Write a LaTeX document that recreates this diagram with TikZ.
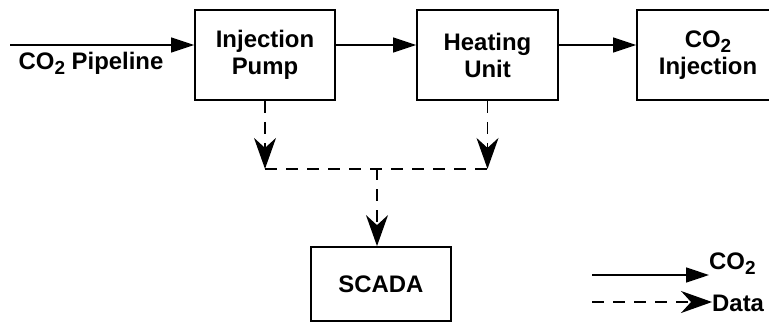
\documentclass[tikz,border=0pt]{standalone}
\usepackage{fontspec}
\setmainfont{Liberation Sans}
\usetikzlibrary{arrows.meta,positioning}
\newcommand{\cotwo}{CO\raisebox{-5bp}{\fontsize{19}{19}\selectfont 2}}

\begin{document}
\begin{tikzpicture}[x=1bp,y=-1bp,
    box/.style={draw,line width=1.8bp,minimum width=140bp,minimum height=90bp,align=center,
      font=\bfseries\fontsize{24}{27}\selectfont},
    lbl/.style={inner sep=0pt,font=\bfseries\fontsize{24}{27}\selectfont},
    flow/.style={line width=1.5bp,-{Triangle[length=23bp,width=15bp]}},
    dataline/.style={line width=1.5bp,dash pattern=on 12bp off 9bp},
    data/.style={dataline,-{Stealth[length=31bp,width=22bp,inset=10bp]}}]
    \path[use as bounding box,clip] (0,0) rectangle (769,322);
    % units and data flow
    \node[box] (pump) at (265,55) {Injection\\Pump};
    \node[box,minimum width=141bp] (heater) at (487.5,55) {Heating\\Unit};
    \node[box,minimum width=142bp] (inject) at (708,55) {\cotwo\\Injection};
    \node[box,minimum height=74bp] (scada) at (381,284) {SCADA};
    \coordinate (pipe) at (10,45);
    \node[lbl] (pipelbl) at (91,63) {\cotwo{} Pipeline};
    \draw[flow] (pipe) -- (pipe -| pump.west);
    \draw[flow] ([yshift=10bp]pump.east) -- ([yshift=10bp]heater.west);
    \draw[flow] ([yshift=10bp]heater.east) -- ([yshift=10bp]inject.west);
    \coordinate (jl) at ([yshift=-68bp]pump.south);
    \coordinate (jr) at (heater.south |- jl);
    \coordinate (jm) at (377,168);
    \draw[data] (pump.south) -- (jl);
    \draw[data] (heater.south) -- (jr);
    \draw[dataline] (jl) -- (jr);
    \draw[data] (jm) -- (jm |- scada.north);
    % legend
    \node[lbl,anchor=west] (lgflow) at (709,264) {\cotwo};
    \node[lbl,anchor=west] (lgdata) at (712,303) {Data};
    \coordinate (lga) at (592,275);
    \coordinate (lgb) at (592,302);
    \draw[flow] (lga) -- (lga -| lgflow.west);
    \draw[data] (lgb) -- (lgb -| lgdata.west);
\end{tikzpicture}
\end{document}
